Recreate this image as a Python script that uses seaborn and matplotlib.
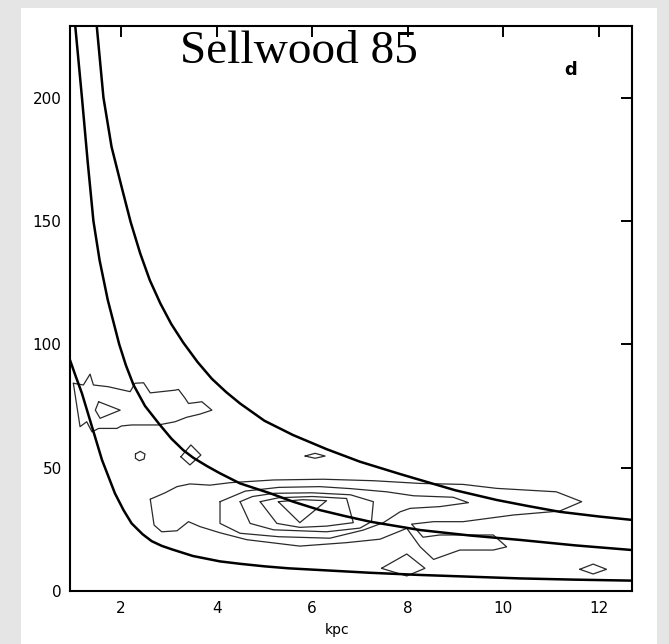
import matplotlib
matplotlib.use("Agg")
import matplotlib.pyplot as plt
from matplotlib.patches import Rectangle
import seaborn as sns

# ---- thick resonance curves (kpc, km/s/kpc) ----
low_x = [0.93, 1.05, 1.18, 1.39, 1.60, 1.87, 2.05, 2.22, 2.45, 2.64, 2.85, 3.06, 3.5, 4.07, 4.5, 5.0, 5.5,
         6.16, 7.2, 8.26, 9.3, 10.35, 11.5, 12.70]
low_y = [93.6, 87.0, 80.1, 66.6, 53.1, 39.6, 32.8, 27.4, 23.0, 20.2, 18.3, 16.9, 14.2, 12.0, 11.0, 10.0, 9.2,
         8.5, 7.4, 6.5, 5.8, 5.1, 4.6, 4.2]

mid_x = [1.04, 1.18, 1.30, 1.42, 1.55, 1.72, 1.96, 2.10, 2.26, 2.50, 2.80, 3.05, 3.30, 3.51, 3.80, 4.07,
         4.49, 5.12, 5.60, 6.16, 6.70, 7.21, 8.26, 9.3, 10.35, 11.5, 12.70]
mid_y = [229, 200, 174, 150, 134, 118, 100, 91.5, 83.5, 75.0, 67.6, 61.8, 57.1, 54.0, 50.6, 47.7,
         43.6, 39.6, 36.2, 32.8, 30.3, 28.1, 24.7, 22.5, 20.7, 18.5, 16.6]

up_x = [1.49, 1.63, 1.80, 2.01, 2.20, 2.40, 2.60, 2.82, 3.05, 3.30, 3.60, 3.90, 4.20, 4.49, 5.0, 5.6,
        6.30, 7.0, 7.84, 8.26, 9.0, 9.86, 10.5, 11.18, 12.0, 12.70]
up_y = [229, 200, 180, 163.8, 149.5, 136.8, 126.0, 116.6, 108.2, 100.7, 92.8, 86.0, 80.6, 76.0, 69.0, 63.2,
        57.5, 52.4, 47.4, 45.0, 40.8, 36.9, 34.5, 32.1, 30.2, 28.8]

# ---- contour polygons ----
c1_x = [2.61, 2.92, 3.17, 3.44, 3.86, 4.28, 5.19, 6.23, 7.28, 8.26, 9.16, 9.86, 11.11, 11.64, 11.18, 10.21,
        9.16, 8.54, 8.08, 8.32, 8.67, 9.79, 10.07, 9.79, 9.09, 8.54, 8.26, 7.98, 7.42, 6.72, 5.74, 4.63,
        4.07, 3.65, 3.41, 3.17, 2.85, 2.69]
c1_y = [37.2, 39.8, 42.3, 43.4, 42.9, 43.9, 45.0, 45.3, 44.7, 43.6, 43.2, 41.6, 40.2, 36.2, 32.4, 30.8,
        28.1, 28.1, 27.1, 21.8, 22.7, 22.7, 17.9, 16.6, 16.6, 12.8, 17.9, 25.4, 21.0, 19.6, 18.2, 20.8,
        23.6, 26.1, 28.1, 24.4, 24.0, 26.7]

c2_x = [4.07, 4.07, 4.49, 5.3, 6.37, 7.07, 7.49, 7.84, 8.05, 8.67, 9.27, 8.95, 8.12, 7.56, 6.8, 6.16, 5.3, 4.6]
c2_y = [36.2, 27.4, 23.4, 22.0, 21.4, 24.7, 27.7, 32.1, 33.5, 34.2, 35.8, 38.0, 38.6, 40.2, 41.5, 42.3, 42.0, 40.5]

c3_x = [4.49, 4.70, 5.19, 6.30, 7.0, 7.24, 7.28, 6.8, 6.0, 5.2, 4.75]
c3_y = [36.2, 27.4, 24.8, 24.0, 25.5, 28.1, 36.2, 39.0, 39.8, 39.6, 38.3]

c4_x = [4.91, 5.26, 5.74, 6.30, 6.86, 6.72, 6.0, 5.3]
c4_y = [36.2, 27.4, 25.8, 26.3, 27.7, 37.5, 38.3, 37.8]

c5_x = [5.29, 5.8, 6.30, 5.74]
c5_y = [36.2, 37.0, 36.6, 27.7]

b1_x = [1.00, 1.21, 1.35, 1.42, 1.73, 1.98, 2.19, 2.29, 2.47, 2.61, 3.13, 3.20, 3.34, 3.41, 3.69, 3.90,
        3.65, 3.37, 3.13, 2.78, 2.22, 2.01, 1.91, 1.53, 1.39, 1.28, 1.14]
b1_y = [84.2, 83.5, 87.9, 83.5, 82.8, 81.7, 80.8, 84.2, 84.4, 80.3, 81.4, 81.7, 78.1, 76.0, 76.7, 73.3,
        71.7, 70.4, 68.6, 67.3, 67.3, 66.9, 65.9, 65.9, 64.5, 68.6, 66.6]

b2_x = [1.53, 1.98, 1.56, 1.46]
b2_y = [76.7, 73.3, 70.0, 73.3]

s1_x = [2.30, 2.40, 2.50, 2.48, 2.38, 2.30]
s1_y = [55.5, 56.6, 55.5, 53.5, 52.8, 53.8]
s2_x = [3.25, 3.46, 3.67, 3.44]
s2_y = [54.4, 59.2, 55.1, 51.1]
s3_x = [5.85, 6.06, 6.27, 6.06]
s3_y = [54.7, 55.8, 54.7, 53.8]
s4_x = [7.45, 7.98, 8.36, 7.98]
s4_y = [9.2, 15.0, 9.2, 6.1]
s5_x = [11.60, 11.88, 12.16, 11.88]
s5_y = [8.8, 10.9, 8.8, 6.9]

x_ticks = [2, 4, 6, 8, 10, 12]
y_ticks = [0, 50, 100, 150, 200]
title_text = "Sellwood 85"
panel_text = "d"
x_label = "kpc"

sns.set_theme(style="white")
plt.rcParams["font.family"] = ["DejaVu Sans"]
plt.rcParams["text.color"] = "black"

W, H = 669, 644
fig = plt.figure(figsize=(W / 100, H / 100), dpi=100, facecolor="#e5e5e5")
fig.patches.append(Rectangle((21 / W, 0), (657 - 21) / W, (644 - 8) / H,
                             transform=fig.transFigure, facecolor="white", edgecolor="none", zorder=-10))
ax = fig.add_axes([70 / W, (H - 591) / H, (632.3 - 70) / W, (591 - 26) / H])
ax.set_facecolor("white")
ax.set_zorder(1)


def draw(xs, ys, lw, color, closed=False):
    if closed:
        xs = list(xs) + [xs[0]]
        ys = list(ys) + [ys[0]]
    sns.lineplot(x=xs, y=ys, sort=False, estimator=None, ax=ax, color=color, lw=lw)


for cx, cy in [(c1_x, c1_y), (c2_x, c2_y), (c3_x, c3_y), (c4_x, c4_y), (c5_x, c5_y),
               (b1_x, b1_y), (b2_x, b2_y), (s1_x, s1_y), (s2_x, s2_y), (s3_x, s3_y),
               (s4_x, s4_y), (s5_x, s5_y)]:
    draw(cx, cy, 0.9, "#2a2a2a", closed=True)

for cx, cy in [(low_x, low_y), (mid_x, mid_y), (up_x, up_y)]:
    draw(cx, cy, 1.8, "black")

ax.set_xlim(0.93, 12.70)
ax.set_ylim(0, 229)
ax.set_xticks(x_ticks)
ax.set_xticklabels([str(t) for t in x_ticks])
ax.set_yticks(y_ticks)
ax.set_yticklabels([str(t) for t in y_ticks])
ax.tick_params(direction="in", length=8, width=1.4, top=True, right=True,
               labelsize=11, pad=6, colors="black")
ax.tick_params(axis="x", pad=7)
for s in ax.spines.values():
    s.set_visible(True)
    s.set_color("black")
    s.set_linewidth(1.5)
ax.set_xlabel("")
ax.set_ylabel("")

fig.text(337 / W, 1 - 630 / H, x_label, ha="center", va="center", fontsize=10, color="black")
fig.text(571 / W, 1 - 70 / H, panel_text, ha="center", va="center", fontsize=13,
         fontweight="bold", color="black")
fig.text(180 / W, 1 - 63.3 / H, title_text, ha="left", va="baseline", fontsize=34,
         family=["Liberation Serif", "DejaVu Serif"], color="black", zorder=5)

fig.savefig("out.png", dpi=100, facecolor=fig.get_facecolor())
